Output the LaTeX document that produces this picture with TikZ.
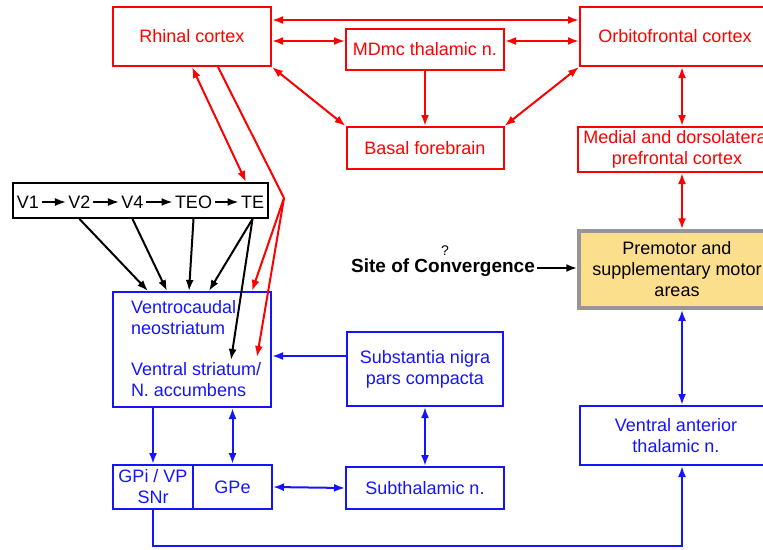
\documentclass[tikz,border=0pt]{standalone}
\usepackage{fontspec}
\setmainfont{Liberation Sans}
\usetikzlibrary{arrows.meta}

\definecolor{cortexred}{RGB}{255,0,0}
\definecolor{gangblue}{RGB}{20,20,255}
\definecolor{motorfill}{RGB}{251,223,140}
\definecolor{motorgray}{RGB}{150,150,150}

\tikzset{
  area/.style={draw, line width=2pt, align=center, inner sep=0pt,
    font=\fontsize{18}{21}\selectfont},
  redarea/.style={area, draw=cortexred, text=cortexred},
  bluearea/.style={area, draw=gangblue, text=gangblue},
  vtext/.style={inner sep=1.5pt, font=\fontsize{18}{21}\selectfont},
}

\begin{document}
\begin{tikzpicture}[x=1pt, y=-1pt, line width=2pt, >={Latex[length=11pt,width=8pt]}]
\useasboundingbox (0,0) rectangle (763,549);
\clip (0,0) rectangle (763,549);

\coordinate (r1) at (0,20);
\coordinate (r2) at (0,41);
\coordinate (col) at (682,0);
\coordinate (bot) at (0,546);
\coordinate (kink) at (284,198);
\coordinate (vsend) at (257,357);
\coordinate (teend) at (231,360);

% cortex
\node[redarea, minimum width=158pt, minimum height=59pt] (rhinal) at (192,36.5) {Rhinal cortex};
\node[redarea, minimum width=158pt, minimum height=41pt] (mdmc) at (425,49.5) {MDmc thalamic n.};
\node[redarea, minimum width=190pt, minimum height=59pt] (orbito) at (675,36.5) {Orbitofrontal cortex};
\node[redarea, minimum width=157pt, minimum height=42pt] (basal) at (425,148) {Basal forebrain};
\node[redarea, minimum width=198pt, minimum height=45pt] (medial) at (677,149.5) {Medial and dorsolateral\\prefrontal cortex};
\node[area, draw=motorgray, fill=motorfill, line width=3.5pt, minimum width=196pt, minimum height=77pt] (premotor) at (677,269.5) {Premotor and\\supplementary motor\\areas};

% visual stream
\node[draw, line width=2pt, minimum width=255pt, minimum height=35pt] (vis) at (140.5,200.5) {};
\foreach \name/\x in {V1/28, V2/79.5, V4/132.5, TEO/193.5, TE/252.5}
   \node[vtext] (\name) at (\x,202) {\name};
\foreach \a/\b in {V1/V2, V2/V4, V4/TEO, TEO/TE}
   \draw[->, line width=1.8pt] (\a) -- (\b);

% basal ganglia
\node[bluearea, minimum width=158pt, minimum height=115pt] (vcn) at (192,349.5) {};
\node[anchor=west, align=left, inner sep=0pt, text=gangblue, font=\fontsize{18}{21}\selectfont] (vcnt) at (130,318) {Ventrocaudal\\neostriatum};
\node[anchor=west, align=left, inner sep=0pt, text=gangblue, font=\fontsize{18}{21}\selectfont] (vsr) at (130,380) {Ventral striatum/\\N. accumbens};
\node[bluearea, minimum width=156pt, minimum height=74pt] (snc) at (425,369) {Substantia nigra\\pars compacta};
\node[bluearea, minimum width=80pt, minimum height=44pt] (gpi) at (153,487) {GPi / VP\\SNr};
\node[bluearea, minimum width=79pt, minimum height=44pt] (gpe) at (232.5,487) {GPe};
\node[bluearea, minimum width=158pt, minimum height=42pt] (stn) at (425,488) {Subthalamic n.};
\node[bluearea, minimum width=192pt, minimum height=59pt] (vat) at (676,435.5) {Ventral anterior\\thalamic n.};

\node[font=\bfseries\fontsize{19}{22}\selectfont, inner sep=1pt] (site) at (443,268) {Site of Convergence};
\node[font=\fontsize{14}{16}\selectfont, inner sep=0pt] (query) at (445,251) {?};

% red connections
\draw[<->, cortexred] (rhinal.east |- r1) -- (orbito.west |- r1);
\draw[<->, cortexred] (rhinal.east |- r2) -- (mdmc.west |- r2);
\draw[<->, cortexred] (mdmc.east |- r2) -- (orbito.west |- r2);
\draw[->, cortexred] (mdmc.south) -- (basal.north);
\draw[<->, cortexred] (rhinal.south east) -- (basal.north west);
\draw[<->, cortexred] (orbito.south west) -- (basal.north east);
\draw[<->, cortexred] (orbito.south -| col) -- (medial.north -| col);
\draw[<->, cortexred] (medial.south -| col) -- (premotor.north -| col);
\draw[<->, cortexred] (rhinal.south) -- ([xshift=105.5pt]vis.north);
\draw[cortexred] ([xshift=26pt]rhinal.south) -- (kink);
\draw[->, cortexred] (kink) -- ([xshift=60pt]vcn.north);
\draw[->, cortexred] (kink) -- (vsend);

% black connections
\foreach \src/\dx in {V2/-44, V4/-25, TEO/-3, TE/17}
   \draw[->] (vis.south -| \src) -- ([xshift=\dx pt]vcn.north);
\draw[->] (vis.south -| TE) -- (teend);
\draw[->] (site.east) -- (premotor.west |- site);

% blue connections
\draw[->, gangblue] ([yshift=13pt]snc.west) -- ([yshift=13pt]snc.west -| vcn.east);
\draw[->, gangblue] (vcn.south -| gpi) -- (gpi.north);
\draw[<->, gangblue] (vcn.south -| gpe) -- (gpe.north);
\draw[<->, gangblue] (gpe.east) -- (stn.west);
\draw[<->, gangblue] (snc.south) -- (stn.north);
\draw[<->, gangblue] (premotor.south -| col) -- (vat.north -| col);
\draw[->, gangblue] (gpi.south) -- (gpi.south |- bot) -| (vat.south -| col);
\end{tikzpicture}
\end{document}
